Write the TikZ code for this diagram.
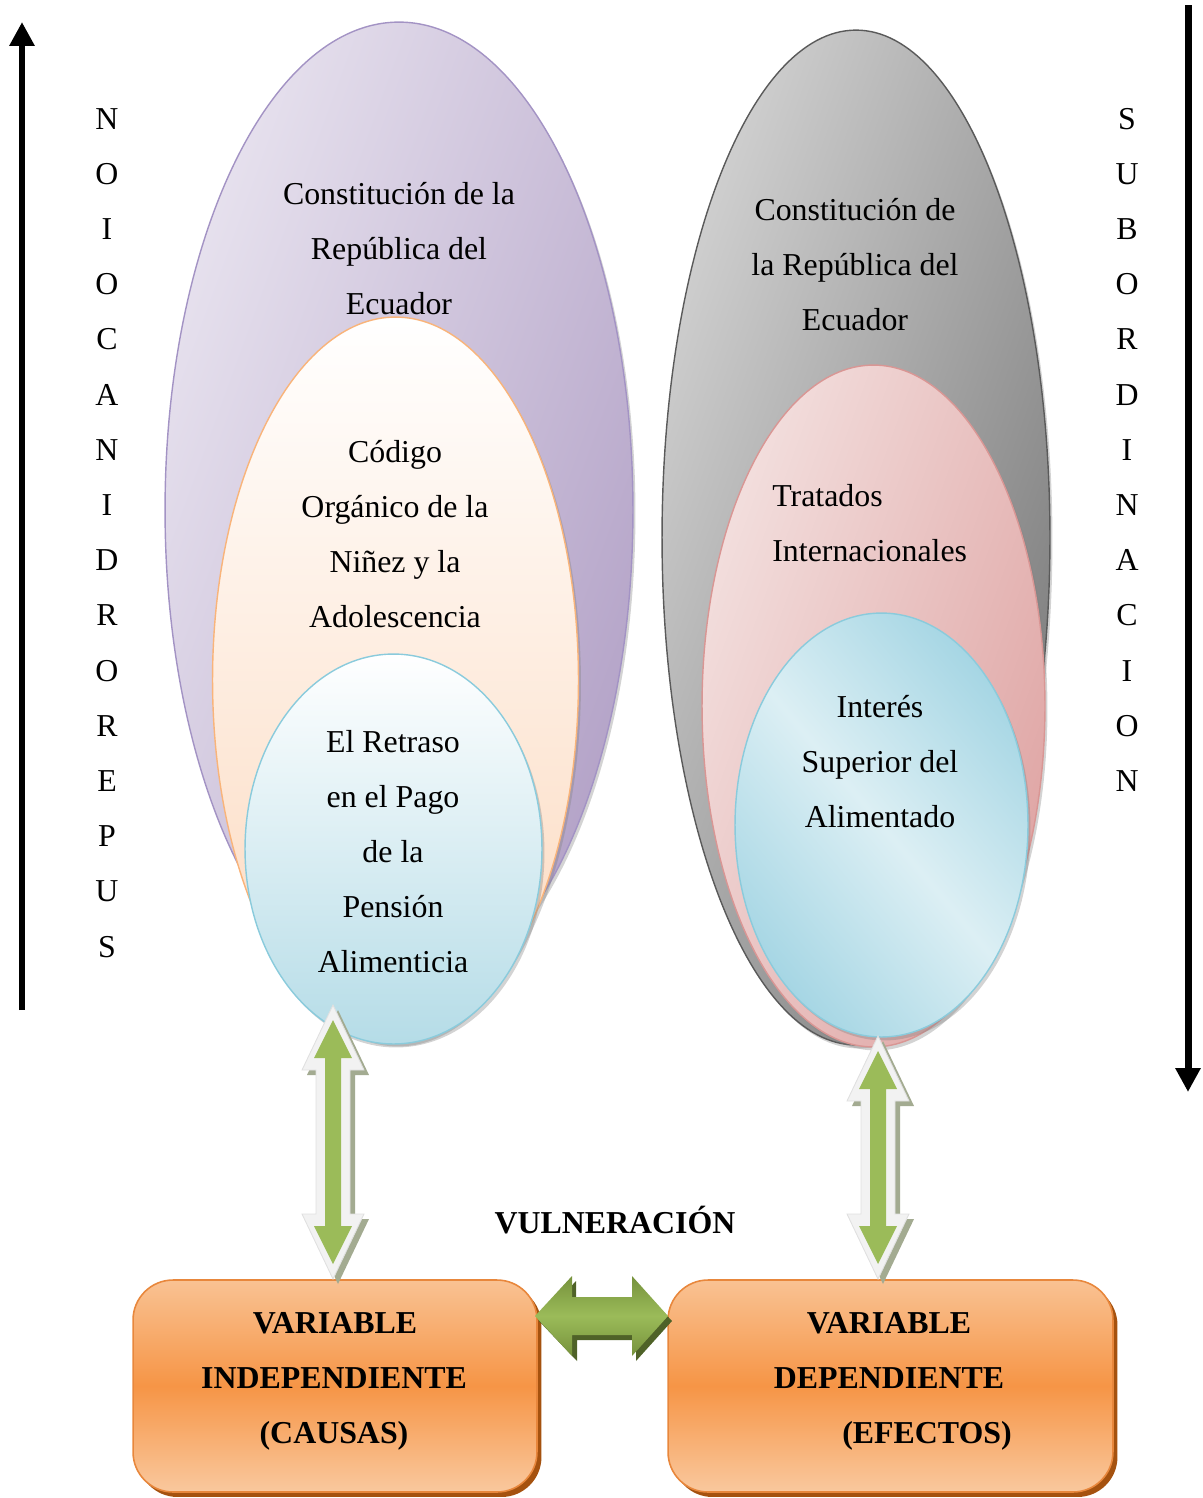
\documentclass[tikz,border=0pt]{standalone}
\usepackage{fontspec}
\setmainfont{Liberation Serif}
\usetikzlibrary{shapes.geometric,shadows,arrows.meta}
\definecolor{purA}{HTML}{E8E3EF}
\definecolor{purB}{HTML}{B3A2C7}
\definecolor{purE}{HTML}{A393C4}
\definecolor{pchA}{HTML}{FFFFFF}
\definecolor{pchB}{HTML}{FCD9BE}
\definecolor{pchE}{HTML}{F9B47A}
\definecolor{bluA}{HTML}{FFFFFF}
\definecolor{bluB}{HTML}{B5DCE7}
\definecolor{bluE}{HTML}{8ACBDC}
\definecolor{gryA}{HTML}{D2D2D2}
\definecolor{gryB}{HTML}{7A7A7A}
\definecolor{gryE}{HTML}{5A5A5A}
\definecolor{pnkA}{HTML}{F3E0DF}
\definecolor{pnkB}{HTML}{DFA4A3}
\definecolor{pnkE}{HTML}{D99694}
\definecolor{brA}{HTML}{DCEFF4}
\definecolor{brB}{HTML}{A6D6E4}
\definecolor{boxA}{HTML}{F9C293}
\definecolor{boxM}{HTML}{F69546}
\definecolor{boxE}{HTML}{E8873C}
\definecolor{boxS}{HTML}{A5520F}
\definecolor{grnA}{HTML}{9BBB59}
\definecolor{grnD}{HTML}{76923C}
\definecolor{grnS}{HTML}{4F6228}
\definecolor{arrW}{HTML}{F2F2F2}
\definecolor{arrS}{HTML}{A3AB91}
\tikzset{
  lbl/.style={font=\fontsize{18.14}{22}\selectfont, inner sep=0pt, anchor=base},
  blbl/.style={lbl, font=\fontsize{18.14}{22}\selectfont\bfseries},
  oval/.style={ellipse, inner sep=0pt, line width=0.8pt,
     drop shadow={shadow xshift=0.05cm, shadow yshift=-0.07cm, opacity=0.35}},
  varbox/.style={rectangle, rounded corners=0.8cm, draw=boxE, line width=0.9pt,
     top color=boxA, bottom color=boxA!90!white, middle color=boxM,
     minimum width=8.08cm, minimum height=4.24cm, inner sep=0pt,
     drop shadow={shadow xshift=0.09cm, shadow yshift=-0.1cm, fill=boxS, opacity=1}},
  sidearrow/.style={line width=3.97pt, -{Triangle[length=13.6pt,width=13.6pt]}},
}
\newcommand\vdblarrow[3]{%
  \fill[arrS] ({#1+5},{#2+5}) -- ({#1+36},{#2+70}) -- ({#1+22},{#2+70}) -- ({#1+22},{#3-60}) -- ({#1+36},{#3-60}) -- ({#1+5},{#3+5}) -- ({#1-26},{#3-60}) -- ({#1-12},{#3-60}) -- ({#1-12},{#2+70}) -- ({#1-26},{#2+70}) -- cycle;
  \filldraw[fill=arrW, draw=black!12, line width=0.5pt] (#1,#2) -- ({#1+31},{#2+65}) -- ({#1+17},{#2+65}) -- ({#1+17},{#3-65}) -- ({#1+31},{#3-65}) -- (#1,#3) -- ({#1-31},{#3-65}) -- ({#1-17},{#3-65}) -- ({#1-17},{#2+65}) -- ({#1-31},{#2+65}) -- cycle;
  \fill[grnA] (#1,{#2+15}) -- ({#1+19},{#2+53}) -- ({#1+8},{#2+53}) -- ({#1+8},{#3-53}) -- ({#1+19},{#3-53}) -- (#1,{#3-15}) -- ({#1-19},{#3-53}) -- ({#1-8},{#3-53}) -- ({#1-8},{#2+53}) -- ({#1-19},{#2+53}) -- cycle;
}
\begin{document}
\begin{tikzpicture}[x=0.02cm, y=-0.02cm]
\useasboundingbox (0,0) rectangle (1203,1498);

% left nested ellipses
\node[oval, draw=purE, left color=purA, right color=purB, shading angle=70,
  minimum width=9.36cm, minimum height=19.52cm] (purple) at (399,510) {};
\node[oval, draw=pchE, top color=pchA, bottom color=pchB,
  minimum width=7.32cm, minimum height=14.52cm] (peach) at (395.5,680) {};
\node[oval, draw=bluE, top color=bluA, bottom color=bluB,
  minimum width=5.94cm, minimum height=7.8cm] (blueL) at (393.5,849) {};

% right nested ellipses
\node[oval, draw=gryE, left color=gryA, right color=gryB, shading angle=70,
  minimum width=7.76cm, minimum height=20.3cm] (gray) at (856,537.5) {};
\node[oval, draw=pnkE, left color=pnkA, right color=pnkB, shading angle=70,
  minimum width=6.86cm, minimum height=13.64cm] (pink) at (873.5,706) {};
\node[oval, draw=bluE, top color=brB, bottom color=brB, middle color=brA, shading angle=-50,
  minimum width=5.86cm, minimum height=8.48cm] (blueR) at (881.5,825) {};

% texts in ellipses
\foreach \t [count=\i] in {Constitución de la, República del, Ecuador}
  \node[lbl] (ta\i) at (399,{204+55.2*(\i-1)}) {\t};
\foreach \t [count=\i] in {Código, Orgánico de la, Niñez y la, Adolescencia}
  \node[lbl] (tb\i) at (395,{462+55.2*(\i-1)}) {\t};
\foreach \t [count=\i] in {El Retraso, en el Pago, de la, Pensión, Alimenticia}
  \node[lbl] (tc\i) at (393,{752+55*(\i-1)}) {\t};
\foreach \t [count=\i] in {Constitución de, la República del, Ecuador}
  \node[lbl] (td\i) at (855,{220+55.2*(\i-1)}) {\t};
\foreach \t [count=\i] in {Tratados, Internacionales}
  \node[lbl, anchor=base west] (te\i) at (772,{506+55.2*(\i-1)}) {\t};
\foreach \t [count=\i] in {Interés, Superior del, Alimentado}
  \node[lbl] (tf\i) at (880,{717+55.4*(\i-1)}) {\t};

% side letters
\foreach \c [count=\i] in {N,O,I,O,C,A,N,I,D,R,O,R,E,P,U,S}
  \node[lbl] (sl\i) at (107,{129+55.2*(\i-1)}) {\c};
\foreach \c [count=\i] in {S,U,B,O,R,D,I,N,A,C,I,O,N}
  \node[lbl] (sr\i) at (1127,{129+55.2*(\i-1)}) {\c};

% side arrows
\coordinate (la0) at (22,1010);
\coordinate (la1) at (22,22);
\coordinate (ra0) at (1188,5);
\coordinate (ra1) at (1188,1092);
\draw[sidearrow] (la0) -- (la1);
\draw[sidearrow] (ra0) -- (ra1);

% boxes
\node[varbox] (boxL) at (335,1386) {};
\node[varbox, minimum width=8.9cm] (boxR) at (890.5,1386) {};
\node[blbl] (bl1) at (335,1333) {VARIABLE};
\node[blbl] (bl2) at (334,1388) {INDEPENDIENTE};
\node[blbl] (bl3) at (334,1443) {(CAUSAS)};
\node[blbl] (br1) at (889,1333) {VARIABLE};
\node[blbl] (br2) at (889,1388) {DEPENDIENTE};
\node[blbl] (br3) at (927,1443) {(EFECTOS)};
\node[blbl] (vul) at (615,1233) {VULNERACIÓN};

% vertical double arrows
\vdblarrow{333}{1005}{1279}
\vdblarrow{878}{1036}{1279}

% horizontal double arrow between boxes
\coordinate (hL) at (535,1316);
\coordinate (hR) at (668,1316);
\fill[grnS] ([shift={(4,5)}]hL) -- ++(37,-40) -- ++(0,21) -- ++(59,0) -- ++(0,-21) -- ([shift={(4,5)}]hR) -- ++(-36,40) -- ++(0,-21) -- ++(-59,0) -- ++(0,21) -- cycle;
\shade[top color=grnD, bottom color=grnD, middle color=grnA] (hL) -- ++(37,-40) -- ++(0,21) -- ++(60,0) -- ++(0,-21) -- (hR) -- ++(-36,40) -- ++(0,-21) -- ++(-60,0) -- ++(0,21) -- cycle;
\end{tikzpicture}
\end{document}
